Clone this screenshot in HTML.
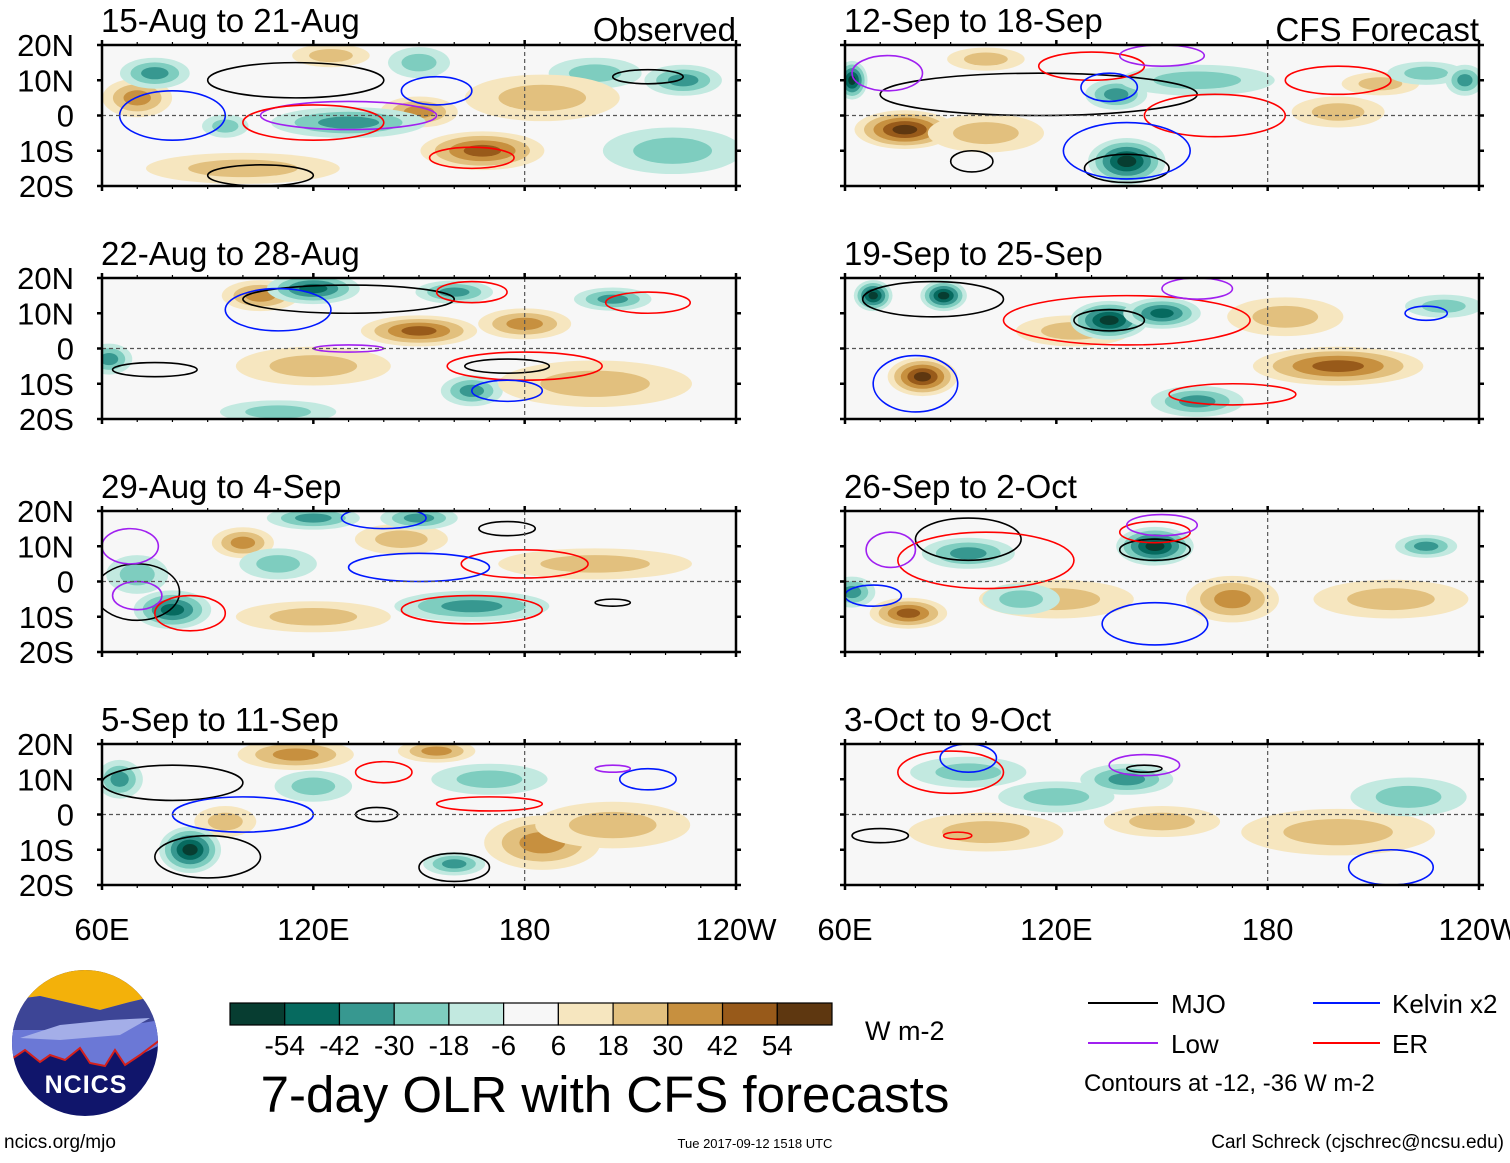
<!DOCTYPE html>
<html><head><meta charset="utf-8"><style>
body{margin:0;background:#fff;font-family:"Liberation Sans",sans-serif}
svg text{font-family:"Liberation Sans",sans-serif}
</style></head><body>
<svg id="fig" width="1510" height="1158" viewBox="0 0 1510 1158" xmlns="http://www.w3.org/2000/svg">
<g id="panels"></g>
<g id="bottom">
 <g>
  <defs><clipPath id="lc"><circle cx="85" cy="1043" r="73"/></clipPath></defs>
  <circle cx="85" cy="1043" r="73" fill="#10156b"/>
  <g clip-path="url(#lc)">
   <rect x="10" y="968" width="150" height="45" fill="#f3b10a"/>
   <path d="M10 1000 L40 996 L70 1003 L100 1010 L130 1002 L160 995 L160 1045 L140 1055 L125 1065 L115 1050 L105 1066 L90 1063 L80 1048 L65 1060 L50 1055 L40 1062 L25 1050 L10 1060Z" fill="#6b78d6"/>
   <path d="M10 1000 L40 996 L70 1003 L100 1010 L130 1002 L160 995 L160 1020 L100 1030 L40 1030 L10 1030Z" fill="#3d4596"/>
   <path d="M20 1038 L60 1025 L110 1020 L150 1018 L120 1035 L60 1040Z" fill="#a4aee8"/>
   <path d="M10 1060 L25 1050 L40 1062 L50 1055 L65 1060 L80 1048 L90 1063 L105 1066 L115 1050 L125 1065 L140 1055 L160 1040" fill="none" stroke="#d4201c" stroke-width="2"/>
  </g>
  <text x="86" y="1093" font-size="25" font-weight="bold" fill="#fff" text-anchor="middle" letter-spacing="1">NCICS</text>
 </g>
 <text x="4" y="1148" font-size="19">ncics.org/mjo</text>
 <g id="cbar"></g>
 <text x="865" y="1040" font-size="27">W m-2</text>
 <text x="605" y="1112" font-size="51" text-anchor="middle">7-day OLR with CFS forecasts</text>
 <text x="755" y="1148" font-size="13" text-anchor="middle">Tue 2017-09-12 1518 UTC</text>
 <text x="1504" y="1148" font-size="19" text-anchor="end">Carl Schreck (cjschrec@ncsu.edu)</text>
 <g>
  <line x1="1088" y1="1003" x2="1158" y2="1003" stroke="#000" stroke-width="2"/><text x="1171" y="1013" font-size="26">MJO</text>
  <line x1="1313" y1="1003" x2="1380" y2="1003" stroke="#0018ff" stroke-width="2"/><text x="1392" y="1013" font-size="26">Kelvin x2</text>
  <line x1="1088" y1="1043" x2="1158" y2="1043" stroke="#a020f0" stroke-width="2"/><text x="1171" y="1053" font-size="26">Low</text>
  <line x1="1313" y1="1043" x2="1380" y2="1043" stroke="#ff0000" stroke-width="2"/><text x="1392" y="1053" font-size="26">ER</text>
  <text x="1084" y="1091" font-size="24">Contours at -12, -36 W m-2</text>
 </g>
</g>
</svg>
<script>
const NS="http://www.w3.org/2000/svg";
const cbLevels=[-54,-42,-30,-18,-6,6,18,30,42,54];
const cbColors=["#073d31","#066a5f","#379890","#7ecdbf","#c2e9e0","#f7f7f7","#f6e6bf","#e2c07e","#c7903f","#985a1a","#5e3710"];
const titles=["15-Aug to 21-Aug","22-Aug to 28-Aug","29-Aug to 4-Sep","5-Sep to 11-Sep","12-Sep to 18-Sep","19-Sep to 25-Sep","26-Sep to 2-Oct","3-Oct to 9-Oct"];
const latTicks=["20N","10N","0","10S","20S"];
const lonTicks=["60E","120E","180","120W"];
// blobs per panel: [lon, lat, value, halfWidthDeg, halfHeightDeg]
const anomalies=[
 [[168,-10,40,16,5],[70,5,25,9,5],[150,1,25,10,4],[125,17,22,10,3],[100,-15,15,25,4],[75,12,-26,9,4],[130,-2,-32,20,4],[95,-3,-22,6,3],[225,10,-28,10,4],[200,12,-20,12,4],[222,-10,-15,18,6],[150,15,-20,8,4],[185,5,12,20,6]],
 [[150,5,40,15,4],[180,7,30,12,4],[105,15,25,10,4],[120,-5,15,20,5],[120,17,-38,12,4],[160,16,-32,10,3],[205,14,-28,10,3],[62,-3,-28,6,4],[165,-12,-25,8,4],[110,-18,-15,15,3],[200,-10,12,25,6]],
 [[100,11,35,8,4],[145,12,20,12,4],[200,5,20,25,4],[120,-10,15,20,4],[80,-8,-42,10,5],[165,-7,-32,20,4],[120,18,-30,12,3],[150,18,-35,10,3],[70,2,-20,8,5],[110,5,-15,10,4]],
 [[115,17,35,15,4],[185,-8,35,15,7],[155,18,25,10,3],[95,-2,20,8,4],[85,-10,-50,8,6],[65,10,-35,6,5],[160,-14,-30,8,3],[170,10,-22,15,4],[120,8,-20,10,4],[205,-3,12,20,6]],
 [[77,-4,48,13,5],[100,-5,20,15,5],[100,16,20,10,3],[200,1,20,12,4],[212,9,22,10,3],[62,10,-54,4,5],[140,-13,-50,10,6],[137,6,-35,8,4],[160,10,-18,20,4],[225,12,-20,10,3],[236,10,-30,5,4]],
 [[82,-8,48,9,5],[200,-5,42,22,5],[125,5,22,15,4],[185,9,15,15,5],[68,15,-54,5,4],[88,15,-48,6,4],[135,8,-54,10,5],[150,10,-40,10,4],[160,-15,-25,12,4],[230,12,-15,10,3]],
 [[78,-9,45,10,4],[170,-5,30,12,6],[120,-5,15,20,5],[215,-5,15,20,5],[95,8,-35,12,4],[148,10,-48,10,5],[110,-5,-15,10,4],[225,10,-25,8,3],[62,-3,-25,6,4]],
 [[200,-5,18,25,6],[100,-5,15,20,5],[150,-2,15,15,4],[140,10,-25,12,4],[95,12,-20,15,4],[120,5,-15,15,4],[220,5,-12,15,5]]
];
// contours per panel: [lon, lat, halfWidthDeg, halfHeightDeg, type]
const contours=[
 [[105,-17,15,3,"mjo"],[115,10,25,5,"mjo"],[215,11,10,2,"mjo"],[130,0,25,4,"low"],[155,7,10,4,"kelvin"],[120,-2,20,5,"er"],[165,-12,12,3,"er"],[80,0,15,7,"kelvin"]],
 [[130,14,30,4,"mjo"],[75,-6,12,2,"mjo"],[175,-5,12,2,"mjo"],[165,16,10,3,"er"],[180,-5,22,4,"er"],[110,11,15,6,"kelvin"],[175,-12,10,3,"kelvin"],[130,0,10,1,"low"],[215,13,12,3,"er"]],
 [[70,-3,12,8,"mjo"],[205,-6,5,1,"mjo"],[175,15,8,2,"mjo"],[85,-9,10,5,"er"],[180,5,18,4,"er"],[165,-8,20,4,"er"],[150,4,20,4,"kelvin"],[140,18,12,3,"kelvin"],[68,10,8,5,"low"],[70,-4,7,4,"low"]],
 [[90,-12,15,6,"mjo"],[80,9,20,5,"mjo"],[160,-15,10,4,"mjo"],[138,0,6,2,"mjo"],[100,0,20,5,"kelvin"],[170,3,15,2,"er"],[140,12,8,3,"er"],[215,10,8,3,"kelvin"],[205,13,5,1,"low"]],
 [[115,6,45,6,"mjo"],[140,-15,12,4,"mjo"],[96,-13,6,3,"mjo"],[165,0,20,6,"er"],[130,14,15,4,"er"],[200,10,15,4,"er"],[140,-10,18,8,"kelvin"],[135,8,8,4,"kelvin"],[150,17,12,3,"low"],[72,12,10,5,"low"]],
 [[85,14,20,5,"mjo"],[135,8,10,3,"mjo"],[140,8,35,7,"er"],[170,-13,18,3,"er"],[80,-10,12,8,"kelvin"],[160,17,10,3,"low"],[225,10,6,2,"kelvin"]],
 [[95,12,15,6,"mjo"],[148,9,10,3,"mjo"],[100,6,25,8,"er"],[148,14,10,3,"er"],[148,-12,15,6,"kelvin"],[68,-4,8,3,"kelvin"],[150,16,10,3,"low"],[73,9,7,5,"low"]],
 [[90,12,15,6,"er"],[95,16,8,4,"kelvin"],[145,14,10,3,"low"],[145,13,5,1,"mjo"],[70,-6,8,2,"mjo"],[92,-6,4,1,"er"],[215,-15,12,5,"kelvin"]]
];
const ctColor={mjo:"#000",kelvin:"#0018ff",low:"#a020f0",er:"#ff0000"};
const pos=[[102,45],[102,278],[102,511],[102,744],[845,45],[845,278],[845,511],[845,744]];
const PW=634,PH=141;
function colorFor(v){let i=0;while(i<cbLevels.length&&v>cbLevels[i])i++;return cbColors[i];}
function el(t,a,p){const e=document.createElementNS(NS,t);for(const k in a)e.setAttribute(k,a[k]);p.appendChild(e);return e;}
const root=document.getElementById('panels');
const defs=el('defs',{},root);
pos.forEach((p,pi)=>{
 const [x0,y0]=p;
 const xS=lon=>x0+(lon-60)/180*PW, yS=lat=>y0+(20-lat)/40*PH;
 const g=el('g',{},root);
 
 
 const cp=el('clipPath',{id:'cp'+pi},defs);el('rect',{x:x0,y:y0,width:PW,height:PH},cp);
 el('rect',{x:x0,y:y0,width:PW,height:PH,fill:"#f7f7f7"},g);
 const f=el('g',{'clip-path':'url(#cp'+pi+')'},g);
 anomalies[pi].forEach(b=>{
  const [lon,lat,v,rw,rh]=b;const s=Math.sign(v);const mag=Math.abs(v);
  const steps=cbLevels.filter(l=>l>0&&l<=mag+6);
  steps.forEach((l,k)=>{
   const fr=1-k/(steps.length+0.3);
   const e=el('ellipse',{cx:xS(lon),cy:yS(lat),rx:rw/180*PW*fr*1.1,ry:rh/40*PH*fr*1.1,fill:colorFor(s*(l+1))},f);
   
   
  });
 });
 contours[pi].forEach(c=>{
  const [lon,lat,rw,rh,t]=c;
  const e=el('ellipse',{cx:xS(lon),cy:yS(lat),rx:rw/180*PW,ry:rh/40*PH,fill:"none",stroke:ctColor[t],'stroke-width':1.6},f);
  
  
 });
 el('line',{x1:x0,y1:yS(0),x2:x0+PW,y2:yS(0),stroke:"#555","stroke-dasharray":"4 3","stroke-width":1.2},g);
 el('line',{x1:xS(180),y1:y0,x2:xS(180),y2:y0+PH,stroke:"#555","stroke-dasharray":"4 3","stroke-width":1.2},g);
 el('rect',{x:x0,y:y0,width:PW,height:PH,fill:"none",stroke:"#000","stroke-width":2.5},g);
 for(let lon=60;lon<=240;lon+=10){const mj=(lon%60==0);
  el('line',{x1:xS(lon),y1:y0-(mj?5:3),x2:xS(lon),y2:y0,stroke:"#000","stroke-width":mj?2.5:1.2},g);
  el('line',{x1:xS(lon),y1:y0+PH,x2:xS(lon),y2:y0+PH+(mj?5:3),stroke:"#000","stroke-width":mj?2.5:1.2},g);}
 for(let lat=-20;lat<=20;lat+=10){
  el('line',{x1:x0-5,y1:yS(lat),x2:x0,y2:yS(lat),stroke:"#000","stroke-width":2.5},g);
  el('line',{x1:x0+PW,y1:yS(lat),x2:x0+PW+5,y2:yS(lat),stroke:"#000","stroke-width":2.5},g);}
 const tt=el('text',{x:x0-1,y:y0-13,'font-size':33},g);tt.textContent=titles[pi];
 
 
 if(pi==0||pi==4){const h=el('text',{x:x0+PW,y:y0-4,'font-size':33,'text-anchor':'end'},g);h.textContent=pi==0?"Observed":"CFS Forecast";
  
  }
 if(pi<4){latTicks.forEach((t,k)=>{const tx=el('text',{x:74,y:yS(20-k*10)+11,'font-size':31,'text-anchor':'end'},g);tx.textContent=t;
  
  });}
 if(pi==3||pi==7){lonTicks.forEach((t,k)=>{const tx=el('text',{x:xS(60+k*60),y:940,'font-size':31,'text-anchor':'middle'},g);tx.textContent=t;
  
  });}
});
const cb=document.getElementById('cbar');
const cbX=230,cbW=602,cbY=1003,cbH=22,bw=cbW/cbColors.length;
cbColors.forEach((c,i)=>{const r=el('rect',{x:cbX+i*bw,y:cbY,width:bw,height:cbH,fill:c,stroke:"#000","stroke-width":1.2},cb);
 
 });
cbLevels.forEach((l,i)=>{const t=el('text',{x:cbX+(i+1)*bw,y:1055,'font-size':28,'text-anchor':'middle'},cb);t.textContent=l;
 
 });
</script>
</body></html>
